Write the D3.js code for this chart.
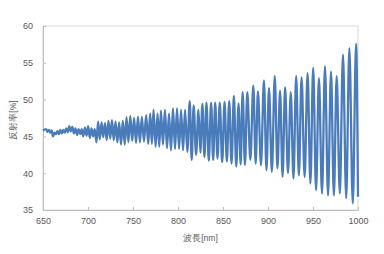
<!DOCTYPE html>
<html>
<head>
<meta charset="utf-8">
<script src="https://cdn.jsdelivr.net/npm/d3@7"></script>
<style>
  body { margin: 0; background: #fff; }
  svg text { font-family: "Liberation Sans", Arial, sans-serif; fill: #595959; }
</style>
</head>
<body>
<div id="chart"></div>
<script>
// fringe maxima (wavelength nm, reflectance %)
var peakNm = [653.4, 656.5, 659.6, 662.8, 666.0, 669.2, 672.5, 675.8, 679.2, 682.6,
  686.0, 689.5, 693.0, 696.6, 700.2, 703.8, 707.5, 711.2, 715.0, 718.8,
  722.7, 726.6, 730.6, 734.6, 738.7, 742.8, 747.0, 751.2, 755.5, 759.8,
  764.6, 769.1, 772.8, 777.3, 781.0, 785.5, 790.0, 794.4, 798.9, 803.4,
  807.8, 813.0, 817.4, 822.7, 827.1, 831.6, 836.8, 841.3, 846.4, 851.7,
  856.9, 862.1, 867.3, 871.8, 877.0, 883.7, 888.8, 895.5, 901.1, 907.5,
  913.4, 919.0, 925.3, 931.3, 937.3, 944.0, 950.2, 956.6, 963.3, 970.0,
  976.3, 983.3, 990.4, 997.9];
var peakPct = [46.0, 45.9, 45.8, 45.5, 45.7, 45.9, 45.9, 46.1, 46.4, 46.3,
  46.1, 46.0, 46.0, 46.2, 46.4, 46.1, 46.0, 47.0, 46.9, 46.8,
  47.1, 47.2, 47.0, 46.9, 47.1, 47.6, 47.8, 47.5, 47.7, 47.65,
  47.9, 48.1, 48.6, 48.1, 48.5, 48.6, 48.1, 48.8, 48.8, 48.6,
  48.6, 49.8, 49.2, 48.6, 49.4, 49.6, 49.6, 49.6, 49.6, 49.7,
  49.8, 50.5, 49.5, 51.0, 51.0, 51.9, 51.1, 52.6, 51.6, 53.2,
  51.2, 51.7, 51.0, 53.2, 53.0, 53.6, 54.3, 52.9, 54.5, 53.8,
  53.2, 56.1, 57.0, 57.6];

// fringe minima
var troughNm = [650.0, 655.0, 658.1, 661.2, 664.4, 667.6, 670.9, 674.2, 677.5, 680.9, 684.3,
  687.8, 691.3, 694.8, 698.4, 702.0, 705.7, 709.4, 713.1, 716.9, 720.8,
  724.7, 728.6, 732.6, 736.7, 740.8, 744.9, 749.1, 753.4, 757.7, 762.2,
  766.9, 771.0, 775.1, 779.2, 783.3, 787.8, 792.2, 796.7, 801.2, 805.6,
  810.4, 815.2, 820.1, 824.9, 829.4, 834.2, 839.1, 843.9, 849.1, 854.3,
  859.5, 864.7, 869.6, 874.4, 880.4, 886.3, 892.2, 898.3, 904.3, 910.5,
  916.2, 922.2, 928.3, 934.3, 940.7, 947.1, 953.4, 960.0, 966.7, 973.2,
  979.8, 986.9, 994.2, 1000.0];
var troughPct = [45.8, 45.6, 45.5, 45.0, 45.3, 45.3, 45.4, 45.5, 45.6, 45.7, 45.4,
  45.2, 45.3, 45.0, 45.1, 44.8, 45.0, 44.2, 44.6, 44.9, 44.5,
  44.7, 44.5, 44.2, 43.9, 43.9, 44.2, 44.4, 44.1, 44.2, 44.3,
  44.0, 44.0, 43.6, 43.6, 43.9, 43.4, 43.1, 43.3, 43.3, 43.1,
  42.9, 41.8, 42.5, 42.8, 42.2, 41.7, 41.8, 42.0, 41.5, 41.6,
  41.3, 40.9, 41.2, 41.1, 41.8, 41.3, 41.1, 40.4, 40.2, 40.65,
  39.5, 40.0, 39.3, 39.7, 39.5, 38.6, 37.7, 37.25, 37.0, 37.0,
  37.25, 36.6, 35.9, 36.8];

var xTicks = [650, 700, 750, 800, 850, 900, 950, 1000];
var yTicks = [35, 40, 45, 50, 55, 60];

var W = 384, H = 254;
var margin = {top: 26, right: 26, bottom: 44, left: 43};

var svg = d3.select("#chart").append("svg")
  .attr("width", W).attr("height", H);

var x = d3.scaleLinear().domain([650, 1000]).range([margin.left, W - margin.right]);
var y = d3.scaleLinear().domain([35, 60]).range([H - margin.bottom, margin.top]);

// plot frame
svg.append("rect")
  .attr("x", x(650)).attr("y", y(60))
  .attr("width", x(1000) - x(650)).attr("height", y(35) - y(60))
  .attr("fill", "none").attr("stroke", "#d9d9d9").attr("stroke-width", 1);

var xAxis = svg.append("g")
  .attr("transform", "translate(0," + y(35) + ")")
  .call(d3.axisBottom(x).tickValues(xTicks).tickFormat(d3.format("d"))
    .tickSizeInner(-3).tickSizeOuter(0).tickPadding(8));
var yAxis = svg.append("g")
  .attr("transform", "translate(" + x(650) + ",0)")
  .call(d3.axisLeft(y).tickValues(yTicks).tickFormat(d3.format("d"))
    .tickSizeInner(-3).tickSizeOuter(0).tickPadding(10));

[xAxis, yAxis].forEach(function(g) {
  g.select(".domain").attr("stroke", "#bfbfbf");
  g.selectAll(".tick line").attr("stroke", "#bfbfbf");
  g.selectAll(".tick text").style("font-size", "9px").attr("fill", "#595959");
});

// merge maxima and minima in wavelength order
var points = [];
peakNm.forEach(function(d, i) { points.push({nm: d, v: peakPct[i]}); });
troughNm.forEach(function(d, i) { points.push({nm: d, v: troughPct[i]}); });
points.sort(function(a, b) { return a.nm - b.nm; });

var line = d3.line()
  .x(function(d) { return x(d.nm); })
  .y(function(d) { return y(d.v); })
  .curve(d3.curveMonotoneX);

svg.append("path")
  .datum(points)
  .attr("d", line)
  .attr("fill", "none")
  .attr("stroke", "#4a7cbb")
  .attr("stroke-width", 2.3)
  .attr("stroke-linejoin", "round");

// axis titles
svg.append("text")
  .attr("x", (x(650) + x(1000)) / 2).attr("y", 241)
  .attr("text-anchor", "middle")
  .style("font-size", "8.5px")
  .text("波長[nm]");

svg.append("text")
  .attr("transform", "translate(16," + (y(47.5) + 2) + ") rotate(-90)")
  .attr("text-anchor", "middle")
  .style("font-size", "8.5px")
  .text("反射率[%]");
</script>
</body>
</html>
